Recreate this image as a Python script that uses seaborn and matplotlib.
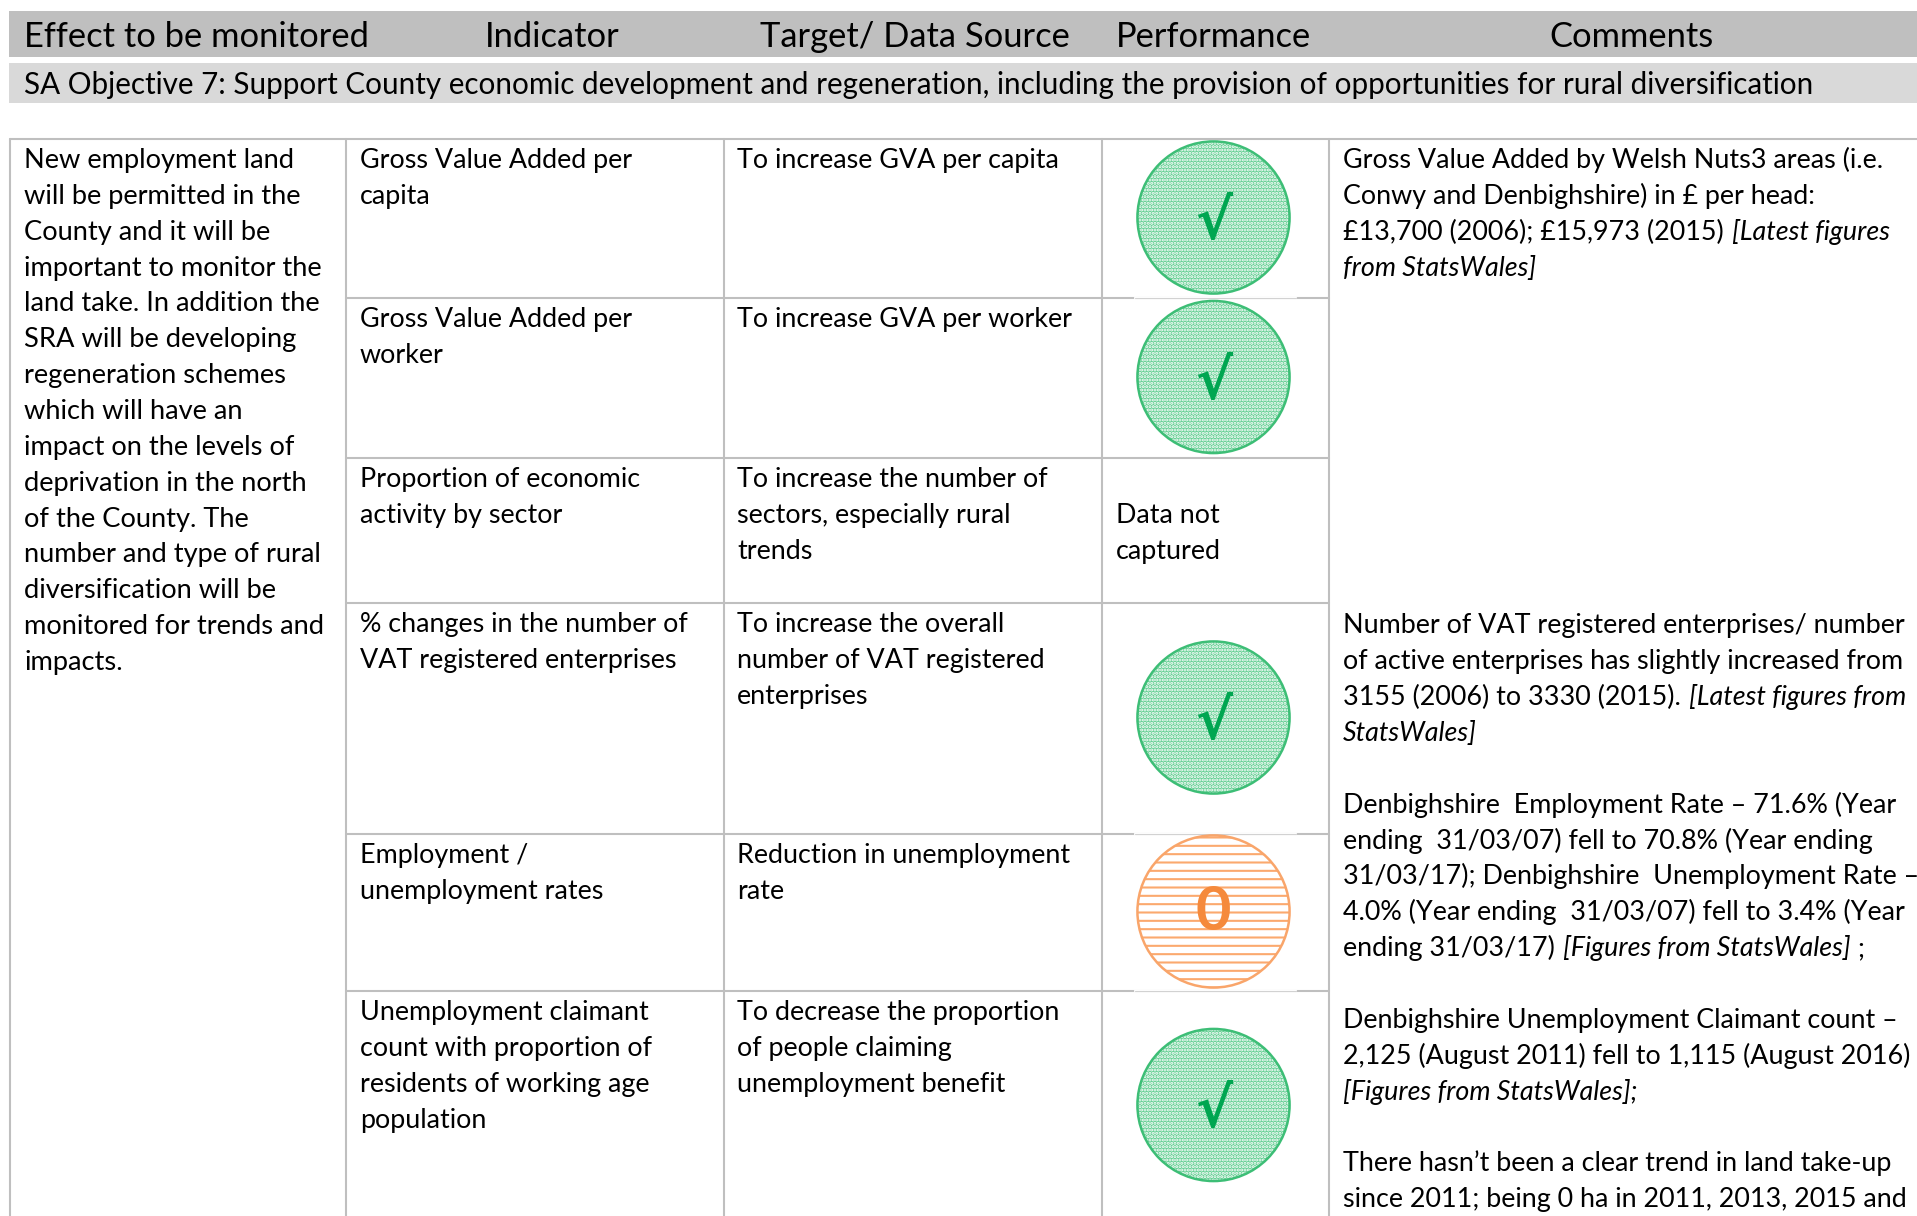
"""Monitoring table for SA Objective 7, redrawn with seaborn."""
import matplotlib.pyplot as plt
import seaborn as sns
import pandas as pd

# Table content
header_labels = ['Effect to be monitored', 'Indicator', 'Target/ Data Source',
                 'Performance', 'Comments']
objective_text = ('SA Objective 7: Support County economic development and '
                  'regeneration, including the provision of opportunities '
                  'for rural diversification')
effect_lines = ['New employment land', 'will be permitted in the',
                'County and it will be', 'important to monitor the',
                'land take. In addition the', 'SRA will be developing',
                'regeneration schemes', 'which will have an',
                'impact on the levels of', 'deprivation in the north',
                'of the County. The', 'number and type of rural',
                'diversification will be', 'monitored for trends and',
                'impacts.']
indicator_lines = [['Gross Value Added per', 'capita'],
                   ['Gross Value Added per', 'worker'],
                   ['Proportion of economic', 'activity by sector'],
                   ['% changes in the number of', 'VAT registered enterprises'],
                   ['Employment /', 'unemployment rates'],
                   ['Unemployment claimant', 'count with proportion of',
                    'residents of working age', 'population']]
target_lines = [['To increase GVA per capita'],
                ['To increase GVA per worker'],
                ['To increase the number of', 'sectors, especially rural',
                 'trends'],
                ['To increase the overall', 'number of VAT registered',
                 'enterprises'],
                ['Reduction in unemployment', 'rate'],
                ['To decrease the proportion', 'of people claiming',
                 'unemployment benefit']]
performance = ['good', 'good', 'none', 'good', 'neutral', 'good']
no_data_lines = ['', 'Data not', 'captured']

# Each line is a list of (text, italic) runs
comments_top = [[('Gross Value Added by Welsh Nuts3 areas (i.e.', False)],
                [('Conwy and Denbighshire) in £ per head:', False)],
                [('£13,700 (2006); £15,973 (2015) ', False),
                 ('[Latest figures', True)],
                [('from StatsWales]', True)]]
comments_low = [[('Number of VAT registered enterprises/ number', False)],
                [('of active enterprises has slightly increased from', False)],
                [('3155 (2006) to 3330 (2015). ', False),
                 ('[Latest figures from', True)],
                [('StatsWales]', True)],
                [],
                [('Denbighshire  Employment Rate – 71.6% (Year', False)],
                [('ending  31/03/07) fell to 70.8% (Year ending', False)],
                [('31/03/17); Denbighshire  Unemployment Rate –', False)],
                [('4.0% (Year ending  31/03/07) fell to 3.4% (Year', False)],
                [('ending 31/03/17) ', False),
                 ('[Figures from StatsWales]', True), (' ;', False)],
                [],
                [('Denbighshire Unemployment Claimant count –', False)],
                [('2,125 (August 2011) fell to 1,115 (August 2016)', False)],
                [('[Figures from StatsWales];', True)],
                [],
                [('There hasn’t been a clear trend in land take-up', False)],
                [('since 2011; being 0 ha in 2011, 2013, 2015 and', False)]]

# Layout in image pixels
W, H = 1917, 1216
COL_X = [10, 346, 724, 1102, 1329]
ROW_Y = [139, 298, 458, 603, 834, 991, 1221]
TEXT_X = [24, 360, 737, 1116, 1343]
HEAD_X = [24, 485, 760, 1116, 1549]
LINE = 35.85
GRID = '#BFBFBF'

sns.set_theme(style='white')
plt.rcParams['font.family'] = ['Lato', 'DejaVu Sans']
plt.rcParams['hatch.linewidth'] = 1.5

fig = plt.figure(figsize=(W / 100, H / 100), dpi=100)
ax = fig.add_axes([0, 0, 1, 1])


def put_runs(x, y, runs, size=19.4):
    """Write regular and italic runs one after the other on a baseline."""
    for text, italic in runs:
        t = ax.text(x, y, text, fontsize=size, color='black', va='baseline',
                    style='italic' if italic else 'normal')
        box = t.get_window_extent(fig.canvas.get_renderer())
        x += box.width + 1


def put_lines(x, y, lines, size=19.35):
    for i, line in enumerate(lines):
        ax.text(x, y + i * LINE, line, fontsize=size, color='black',
                va='baseline')


# Title bands
ax.fill_between([9, W], 11, 57, color='#BFBFBF', lw=0)
ax.fill_between([9, W], 63, 103, color='#D9D9D9', lw=0)
for x, label in zip(HEAD_X, header_labels):
    ax.text(x, 47, label, fontsize=24.8, color='black', va='baseline')
ax.text(24, 94, objective_text, fontsize=21.33, color='black', va='baseline')

# Grid of the table
ax.plot([COL_X[0], W], [ROW_Y[0]] * 2, color=GRID, lw=1.5)
for x in COL_X:
    ax.plot([x, x], [ROW_Y[0], H], color=GRID, lw=1.5)
for y in ROW_Y[1:-1]:
    ax.plot([COL_X[1], COL_X[4]], [y, y], color=GRID, lw=1.5)

# The icons sit on white boxes that thin the row lines
for y in [298, 834, 991]:
    ax.plot([1135, 1296], [y, y], color='white', lw=1.6, zorder=2)
    ax.plot([1135, 1296], [y, y], color='#D2D2D2', lw=0.8, zorder=2)

# Text columns
put_lines(TEXT_X[0], ROW_Y[0] + 29, effect_lines, size=19.6)
for top, ind, tar in zip(ROW_Y, indicator_lines, target_lines):
    put_lines(TEXT_X[1], top + 29, ind)
    put_lines(TEXT_X[2], top + 29, tar)
put_lines(TEXT_X[3], ROW_Y[2] + 29, no_data_lines)
for i, runs in enumerate(comments_top):
    put_runs(TEXT_X[4], ROW_Y[0] + 29 + i * LINE, runs)
for i, runs in enumerate(comments_low):
    put_runs(TEXT_X[4], ROW_Y[3] + 30.5 + i * LINE, runs)

# Performance icons
centres = pd.DataFrame({
    'x': [(COL_X[3] + COL_X[4]) / 2 - 2] * len(performance),
    'y': [(a + b) / 2 - 1 for a, b in zip(ROW_Y[:-1], ROW_Y[1:])],
    'status': performance})
good = centres[centres['status'] == 'good']
neutral = centres[centres['status'] == 'neutral']
SIZE = 12000

sns.scatterplot(data=good, x='x', y='y', s=SIZE, marker='o', ax=ax, legend=False,
                facecolor='#66CF94', edgecolor='white', linewidth=0,
                hatch='.....', zorder=3)
sns.scatterplot(data=good, x='x', y='y', s=SIZE, marker='o', ax=ax, legend=False,
                facecolor='none', edgecolor='#3DBE76', linewidth=1.8, zorder=4)
sns.scatterplot(data=neutral, x='x', y='y', s=SIZE, marker='o', ax=ax,
                legend=False, facecolor='white', edgecolor='#FBA96E',
                linewidth=0, hatch='--', zorder=3)
sns.scatterplot(data=neutral, x='x', y='y', s=SIZE, marker='o', ax=ax,
                legend=False, facecolor='none', edgecolor='#F9A56A',
                linewidth=1.8, zorder=4)

for _, row in good.iterrows():
    ax.text(row['x'] + 1, row['y'] + 7, '√', fontsize=40, color='#00A651',
            family='DejaVu Sans', weight='bold', ha='center', va='center',
            zorder=5)
for _, row in neutral.iterrows():
    ax.text(row['x'], row['y'] + 1, '0', fontsize=44, color='#F58A3C',
            weight='bold', ha='center', va='center', zorder=5)

ax.set_xlim(0, W)
ax.set_ylim(H, 0)
ax.set_xlabel('')
ax.set_ylabel('')
ax.axis('off')
fig.savefig('out.png', dpi=100)
